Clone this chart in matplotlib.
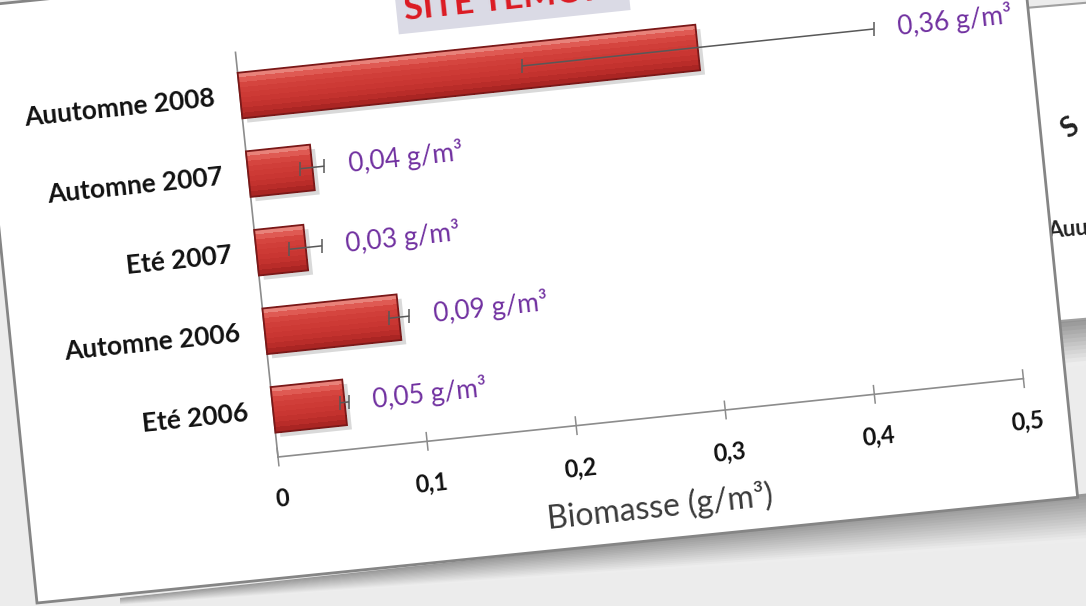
import numpy as np
import matplotlib
matplotlib.use("Agg")
import matplotlib.pyplot as plt
from matplotlib.transforms import Affine2D
from matplotlib.patches import Rectangle, Polygon
from mpl_toolkits.axisartist import floating_axes
from mpl_toolkits.axisartist.grid_finder import FixedLocator, DictFormatter

# ---------------- data ----------------
categories = ["Eté 2006", "Automne 2006", "Eté 2007", "Automne 2007", "Auutomne 2008"]
biomasse = [0.048, 0.09, 0.033, 0.043, 0.307]
erreur = [0.003, 0.007, 0.011, 0.008, 0.118]
etiquettes = ["0,05 g/m³", "0,09 g/m³", "0,03 g/m³", "0,04 g/m³", "0,36 g/m³"]
x_ticks = [0.0, 0.1, 0.2, 0.3, 0.4, 0.5]
x_tick_labels = ["0", "0,1", "0,2", "0,3", "0,4", "0,5"]
x_label = "Biomasse (g/m³)"
titre = "SITE TEMOIN"

FONT = ["Lato", "DejaVu Sans"]
plt.rcParams["font.family"] = FONT

W, H = 1086, 606
fig = plt.figure(figsize=(W / 100, H / 100), dpi=100)
fig.patch.set_facecolor("#ececec")

# ---------------- background (pixel coordinates, y up) ----------------
bg = fig.add_axes([0, 0, 1, 1])
bg.set_xlim(0, W)
bg.set_ylim(0, H)
bg.axis("off")

def img(x, y):
    return (x, H - y)

# second (background) slide on the right
bg.add_patch(Polygon([img(1025, 8), img(1095, 2), img(1095, 318), img(1025, 324)],
                     closed=True, fc="white", ec="#a0a0a0", lw=1.5, zorder=1))
for i, t in enumerate(np.linspace(0, 1, 12)):
    bg.add_patch(Polygon([img(1030, 322 + 4 * i), img(1095, 316 + 4 * i),
                          img(1095, 321 + 4 * i), img(1030, 327 + 4 * i)],
                         closed=True, fc=(0.58 + 0.35 * t,) * 3, ec="none", zorder=0.9))
bg.text(*img(1070, 128), "S", rotation=35, fontsize=20, fontweight="bold",
        color="#222222", ha="center", va="center", zorder=2)
bg.text(*img(1047, 230), "Auu", rotation=5, fontsize=16, fontweight="bold",
        color="#222222", ha="left", va="center", zorder=2)

# shadow beneath the main slide (fades towards the left)
NS = 16
for i in range(NS):
    t = i / (NS - 1)
    d0 = 3 * i
    col = (0.60 + 0.33 * t,) * 3
    bg.add_patch(Polygon([img(120, 598 + d0 * 0.15), img(1100, 492 + d0),
                          img(1100, 496 + d0), img(120, 599 + d0 * 0.15)],
                         closed=True, fc=col, ec="none", zorder=2))

# main slide (rotated rectangle)
bg.add_patch(Rectangle(img(37, 603), 1046, 600, angle=5.8, rotation_point="xy",
                       fc="white", ec="#858585", lw=2, zorder=3))

# title box (mostly cut off at the top)
bg.text(*img(405, 20), titre, rotation=6, rotation_mode="anchor", ha="left",
        va="baseline", fontsize=25, fontweight="bold", color="#dc1a22", zorder=4,
        bbox=dict(boxstyle="square,pad=0.22", fc="#dadae5", ec="none"))

# ---------------- rotated bar chart ----------------
ANG = 6.0
SX, SY = 1499.0, 79.0
CMIN, CMAX = -0.6, 4.55
OX, OY = 278.0, 149.0
tr = (Affine2D().scale(SX, SY).translate(0, -CMIN * SY)
      .rotate_deg(ANG).translate(OX, OY))

ypos = list(range(len(categories)))
grid_helper = floating_axes.GridHelperCurveLinear(
    tr, extremes=(x_ticks[0], x_ticks[-1], CMIN, CMAX),
    grid_locator1=FixedLocator(x_ticks),
    tick_formatter1=DictFormatter(dict(zip(x_ticks, x_tick_labels))),
    grid_locator2=FixedLocator(ypos),
    tick_formatter2=DictFormatter(dict(zip(ypos, categories))))

ax = fig.add_axes([0, 0, 1, 1], axes_class=floating_axes.FloatingAxes,
                  grid_helper=grid_helper)
ax.set_xlim(0, W)
ax.set_ylim(0, H)
ax.patch.set_facecolor("none")
ax.set_zorder(5)

for side in ["top", "right"]:
    ax.axis[side].set_visible(False)

left = ax.axis["left"]
left.line.set_color("#8c8c8c")
left.line.set_linewidth(1.2)
left.major_ticks.set_visible(False)
left.major_ticklabels.set_fontsize(19)
left.major_ticklabels.set_fontweight("bold")
left.major_ticklabels.set_color("#111111")
left.major_ticklabels.set_pad(18)

bottom = ax.axis["bottom"]
bottom.line.set_color("#8c8c8c")
bottom.line.set_linewidth(1.2)
bottom.major_ticks.set_visible(False)
bottom.major_ticklabels.set_fontsize(17)
bottom.major_ticklabels.set_fontweight("bold")
bottom.major_ticklabels.set_color("#111111")
bottom.major_ticklabels.set_pad(23)
bottom.label.set_text(x_label)
bottom.label.set_fontsize(23)
bottom.label.set_color("#3a3a3a")
bottom.label.set_pad(15)

aux = ax.get_aux_axes(tr)

# crossing tick marks on the value axis
aux.vlines(x_ticks, CMIN - 0.12, CMIN + 0.12, colors="#8c8c8c", lw=1.1, zorder=2)

bar_h = 0.58
# soft shadow under the bars
aux.barh([y - 0.06 for y in ypos], biomasse, height=bar_h, left=0.003,
         color="#b4b4b4", alpha=0.5, lw=0, zorder=2)
# shaded bar body (overlapping horizontal strips, top to bottom)
shades = ["#e8827a", "#df5a53", "#d5453f", "#d03e39", "#cd3a35", "#c93632",
          "#c3322e", "#b92c29", "#aa2523"]
n = len(shades)
for k, col in enumerate(shades):
    top = bar_h / 2 - k * bar_h / n
    hh = bar_h / n * (1.0 if k == n - 1 else 1.6)
    aux.barh([y + top - hh / 2 for y in ypos], biomasse, height=hh,
             color=col, lw=0, zorder=3 + 0.01 * k, antialiased=False)
aux.barh(ypos, biomasse, height=bar_h, fc="none", ec="#7a1818", lw=1.3, zorder=4)

aux.errorbar(biomasse, ypos, xerr=erreur, fmt="none", ecolor="#585858",
             elinewidth=1.1, capsize=5, capthick=1.1, zorder=5)

for y, v, e, lab in zip(ypos, biomasse, erreur, etiquettes):
    aux.text(v + e + 0.016, y + 0.0, lab, color="#7030a0", fontsize=19,
             rotation=ANG, rotation_mode="anchor", ha="left", va="center", zorder=6)

fig.savefig("out.png", dpi=100, facecolor=fig.get_facecolor())
